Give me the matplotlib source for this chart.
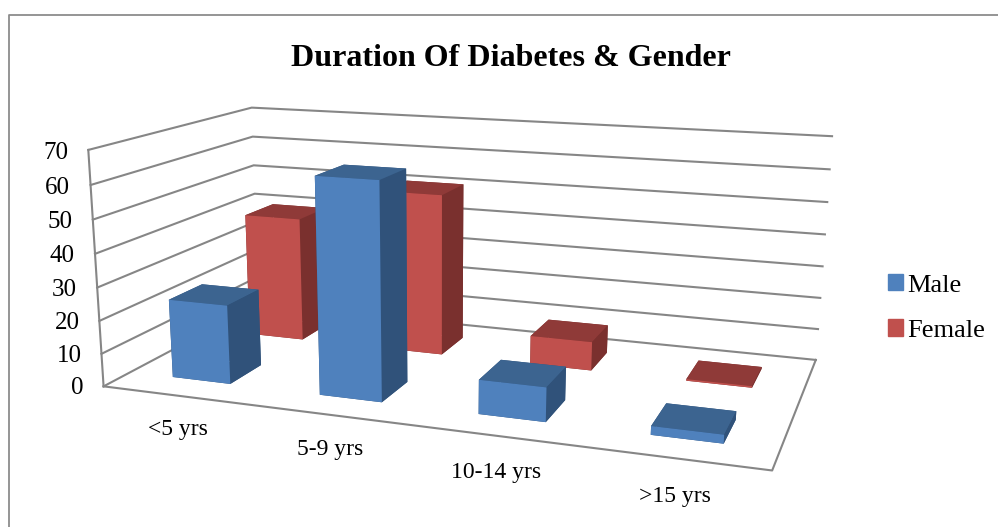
import numpy as np
import matplotlib
matplotlib.use('Agg')
import matplotlib.pyplot as plt
from matplotlib.lines import Line2D
from matplotlib.patches import Patch

categories = ['<5 yrs', '5-9 yrs', '10-14 yrs', '>15 yrs']
male = [24, 64, 10, 2.5]
female = [40, 51, 9, 0.5]
y_ticks = [0, 10, 20, 30, 40, 50, 60, 70]

W, H = 998, 527
GRID = '#868686'
BLUE = ['#30527A', '#3C6490', '#4F81BD', '#30527A', '#30527A', '#30527A']
RED = ['#7A302E', '#8F3A38', '#C0504D', '#7A302E', '#7A302E', '#7A302E']
# face order of bar3d: bottom, top, front, back, left, right

plt.rcParams['font.family'] = ['Liberation Serif', 'DejaVu Sans']

# the picture's box corners (pixels) give the camera of the excel 3d view
world = [(0, 0, 0), (0, 0, 70), (0, 2, 70), (0, 2, 0), (4, 2, 0), (4, 2, 70), (4, 0, 0), (4, 2, 10)]
pixel = [(104, 385), (88, 150), (252, 107), (258, 306), (816, 359), (832, 137), (772, 472), (818, 328)]
rows = []
for (a, b, c), (u, v) in zip(world, pixel):
    v = H - v
    rows.append([a, b, c, 1, 0, 0, 0, 0, -u * a, -u * b, -u * c, -u])
    rows.append([0, 0, 0, 0, a, b, c, 1, -v * a, -v * b, -v * c, -v])
camera = np.linalg.svd(np.array(rows, float))[2][-1].reshape(3, 4)
if camera[2] @ np.array([2, 1, 0, 1]) < 0:
    camera = -camera

fig = plt.figure(figsize=(W / 100, H / 100), dpi=100)
# 3d axes are forced square, so make the square wider than the figure
ax = fig.add_axes([0, -(W / H - 1) / 2, 1, W / H], projection='3d')
ax.set_axis_off()
ax.computed_zorder = False


def fitted_proj():
    inv = np.linalg.inv(ax.transData.get_matrix())
    m = inv @ camera
    return np.array([m[0], m[1], [0, 0, 0, -1], m[2]])


def to_fig(x, y, z):
    p = camera @ np.array([x, y, z, 1])
    return p[0] / p[2] / W, p[1] / p[2] / H


ax.get_proj = fitted_proj

for v in y_ticks:
    ax.plot([0, 0, 4], [0, 2, 2], [v, v, v], color=GRID, lw=1.5, zorder=1)
    fx, fy = to_fig(-0.14, 0, v - 0.55)
    fig.text(fx, fy, str(v), ha='right', va='center_baseline', fontsize=18, color='black')
ax.plot([0, 0], [0, 0], [0, 70], color=GRID, lw=1.5, zorder=1)
ax.plot([0, 4, 4], [0, 0, 2], [0, 0, 0], color=GRID, lw=1.5, zorder=1)

pos = np.arange(len(categories)) + 0.3
ax.bar3d(pos, np.full(4, 1.3), np.zeros(4), 0.4, 0.4, female, color=RED * 4, shade=False, linewidth=0, zorder=2)
ax.bar3d(pos, np.full(4, 0.3), np.zeros(4), 0.4, 0.4, male, color=BLUE * 4, shade=False, linewidth=0, zorder=3)

for i, name in enumerate(categories):
    fx, fy = to_fig(0.81 + 0.93 * i, -0.5, 0)
    fig.text(fx, fy, name, ha='center', va='center', fontsize=17, color='black')

fig.text(511 / W, 1 - 58 / H, 'Duration Of Diabetes & Gender', ha='center', va='center',
         fontsize=23, fontweight='bold')

handles = [Patch(color='#4F81BD', label='Male'), Patch(color='#C0504D', label='Female')]
fig.legend(handles=handles, loc='center left', bbox_to_anchor=(864 / W, 1 - 308 / H), frameon=False,
           fontsize=19, handlelength=0.58, handleheight=0.58, handletextpad=0.14, labelspacing=0.87)

fig.add_artist(Line2D([9 / W, 9 / W, 1], [0, 1 - 14.5 / H, 1 - 14.5 / H], color='#8C8C8C', lw=1.3))

fig.savefig('out.png', dpi=100)
